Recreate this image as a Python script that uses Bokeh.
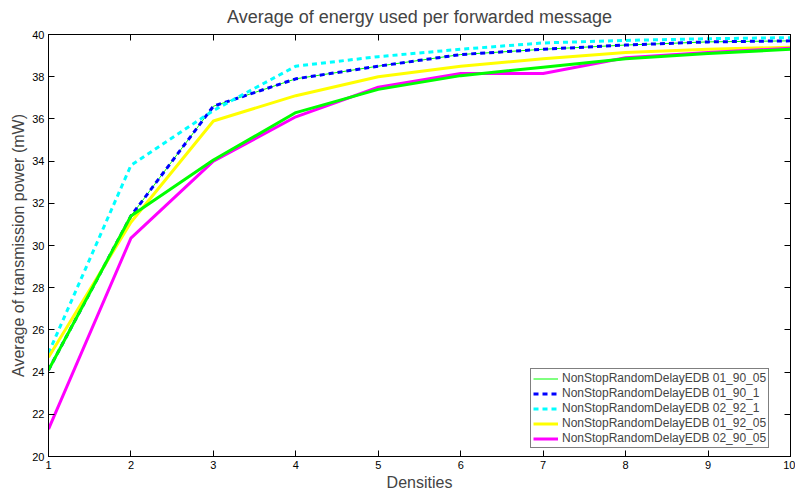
from bokeh.plotting import figure
from bokeh.models import Range1d, LinearAxis, FixedTicker, Legend, LegendItem
from bokeh.embed import file_html
from bokeh.resources import INLINE

densities = [1, 2, 3, 4, 5, 6, 7, 8, 9, 10]
s_01_90_05 = [24.1, 31.4, 36.6, 37.9, 38.5, 39.05, 39.3, 39.5, 39.65, 39.7]
s_01_90_1 = [24.1, 31.4, 36.6, 37.9, 38.5, 39.05, 39.3, 39.5, 39.65, 39.7]
s_02_92_1 = [24.9, 33.8, 36.4, 38.5, 38.95, 39.3, 39.6, 39.72, 39.8, 39.85]
s_01_92_05 = [24.7, 31.1, 35.9, 37.1, 38.0, 38.5, 38.85, 39.15, 39.3, 39.4]
s_02_90_05 = [21.3, 30.35, 34.0, 36.1, 37.5, 38.15, 38.15, 38.9, 39.15, 39.35]
s_extra = [24.1, 31.4, 34.05, 36.3, 37.4, 38.05, 38.45, 38.85, 39.1, 39.3]

labels = ["NonStopRandomDelayEDB 01_90_05", "NonStopRandomDelayEDB 01_90_1",
          "NonStopRandomDelayEDB 02_92_1", "NonStopRandomDelayEDB 01_92_05",
          "NonStopRandomDelayEDB 02_90_05"]
x_ticks = [1, 2, 3, 4, 5, 6, 7, 8, 9, 10]
y_ticks = [20, 22, 24, 26, 28, 30, 32, 34, 36, 38, 40]

FONT = "Liberation Sans"

p = figure(width=795, height=493, output_backend="svg", toolbar_location=None,
           x_range=Range1d(1, 10), y_range=Range1d(20, 40),
           title="Average of energy used per forwarded message",
           min_border_left=48, min_border_right=5, min_border_top=34, min_border_bottom=37)
p.title.align = "center"
p.title.vertical_align = "top"
p.title.text_font = FONT
p.title.text_font_size = "18px"
p.title.text_font_style = "normal"
p.title.text_line_height = 1.0
p.title.standoff = 12
p.grid.visible = False
p.outline_line_color = "black"
p.outline_line_width = 1
p.background_fill_color = "white"
p.border_fill_color = "white"

def style_axis(ax, show_labels=True):
    ax.major_tick_in = 6
    ax.major_tick_out = 0
    ax.minor_tick_line_color = None
    ax.axis_line_color = "black"
    ax.major_tick_line_color = "black"
    ax.major_label_text_font = FONT
    ax.axis_label_text_font = FONT
    ax.axis_label_text_font_size = "16px"
    ax.axis_label_text_font_style = "normal"
    if show_labels:
        ax.major_label_text_font_size = "11px"
        ax.major_label_text_color = "black"
    else:
        ax.major_label_text_font_size = "0px"
        ax.major_label_text_color = None
        ax.major_label_text_alpha = 0
        ax.major_label_standoff = 0

p.xaxis.ticker = FixedTicker(ticks=x_ticks)
p.yaxis.ticker = FixedTicker(ticks=y_ticks)
p.xaxis.axis_label = "Densities"
p.yaxis.axis_label = "Average of transmission power (mW)"
style_axis(p.xaxis[0])
style_axis(p.yaxis[0])
p.xaxis.major_label_standoff = 4
p.xaxis.axis_label_standoff = 2
p.yaxis.major_label_standoff = 4
p.yaxis.axis_label_standoff = 2

top = LinearAxis(ticker=FixedTicker(ticks=x_ticks))
style_axis(top, False)
right = LinearAxis(ticker=FixedTicker(ticks=y_ticks))
style_axis(right, False)
p.add_layout(top, "above")
p.add_layout(right, "right")

r1 = p.line(densities, s_01_90_05, line_color="#00ff00", line_width=1)
r2 = p.line(densities, s_01_90_1, line_color="#0000ff", line_width=3, line_dash="5 4")
r3 = p.line(densities, s_02_92_1, line_color="#00ffff", line_width=3, line_dash="5 4")
r4 = p.line(densities, s_01_92_05, line_color="#ffff00", line_width=3)
r5 = p.line(densities, s_02_90_05, line_color="#ff00ff", line_width=3)
r6 = p.line(densities, s_extra, line_color="#00ff00", line_width=3)

items = [LegendItem(label=lab, renderers=[r]) for lab, r in zip(labels, [r1, r2, r3, r4, r5])]
legend = Legend(items=items, location=(482, 8))
legend.label_text_font = FONT
legend.label_text_font_size = "12px"
legend.label_height = 13
legend.glyph_height = 13
legend.glyph_width = 25
legend.label_standoff = 4
legend.spacing = 1
legend.padding = 2
legend.margin = 0
legend.border_line_color = "black"
legend.border_line_width = 1
legend.background_fill_alpha = 1
p.add_layout(legend, "center")

open("out.html", "w").write(file_html(p, INLINE))
